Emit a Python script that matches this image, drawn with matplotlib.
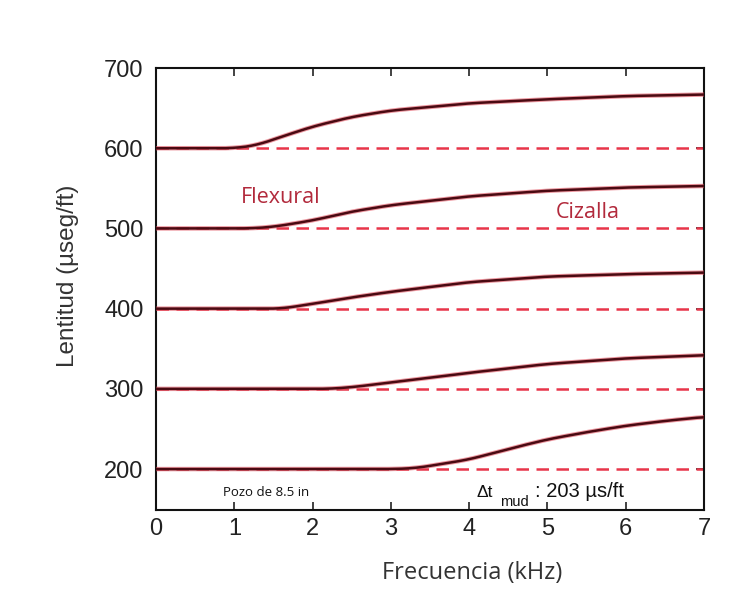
import numpy as np
import matplotlib
matplotlib.use("Agg")
import matplotlib.pyplot as plt

# Shear slowness levels (dashed) and flexural dispersion curves (solid)
shear_levels = [600, 500, 400, 300, 200]

freq_1 = [0, 1.0, 1.3, 1.5, 2.0, 2.5, 3.0, 4.0, 5.0, 6.0, 7.0]
flex_1 = [600, 600, 604, 611, 627, 639, 647, 656, 661, 665, 667]

freq_2 = [0, 1.2, 1.5, 2.0, 2.5, 3.0, 4.0, 5.0, 6.0, 7.0]
flex_2 = [500, 500, 502, 510, 521, 529, 540, 547, 551, 553]

freq_3 = [0, 1.6, 2.0, 2.5, 3.0, 4.0, 5.0, 6.0, 7.0]
flex_3 = [400, 400, 406, 414, 421, 433, 440, 443, 445]

freq_4 = [0, 2.2, 2.5, 3.0, 4.0, 5.0, 6.0, 7.0]
flex_4 = [300, 300, 302, 308, 320, 331, 338, 342]

freq_5 = [0, 3.0, 3.3, 3.5, 4.0, 4.5, 5.0, 5.5, 6.0, 6.5, 7.0]
flex_5 = [200, 200, 201, 204, 212, 225, 237, 246, 254, 260, 265]

flex_freqs = [freq_1, freq_2, freq_3, freq_4, freq_5]
flex_vals = [flex_1, flex_2, flex_3, flex_4, flex_5]

x_ticks = [0, 1, 2, 3, 4, 5, 6, 7]
y_ticks = [200, 300, 400, 500, 600, 700]

plt.rcParams['font.family'] = ['Liberation Sans', 'DejaVu Sans']
OPEN = ['Open Sans', 'DejaVu Sans']

fig = plt.figure(figsize=(7.48, 5.93), dpi=100)
ax = fig.add_axes([0.2086, 0.140, 0.7326, 0.7453])

dash_red = '#e8354a'
halo_red = '#e0505e'
dark = '#4a0a12'

for lvl in shear_levels:
    ax.plot([0, 7], [lvl, lvl], color=dash_red, lw=1.8, dashes=(5, 3), zorder=2)

for fx, fy in zip(flex_freqs, flex_vals):
    xs = np.linspace(0, 7, 300)
    ys = np.interp(xs, fx, fy)
    # light smoothing of the piecewise-linear readout
    k = np.ones(15) / 15
    ys_s = np.convolve(np.pad(ys, 7, mode='edge'), k, mode='valid')
    ax.plot(xs, ys_s, color=halo_red, lw=3.2, alpha=0.6, zorder=3)
    ax.plot(xs, ys_s, color=dark, lw=1.8, zorder=4)

ax.set_xlim(0, 7)
ax.set_ylim(149, 700)
ax.set_xticks(x_ticks)
ax.set_yticks(y_ticks)
ax.tick_params(axis='both', direction='in', length=6, width=1.2,
               labelsize=17, colors='#222222', top=True, right=True)
ax.tick_params(axis='y', pad=9)
ax.tick_params(axis='x', pad=6)
for sp in ax.spines.values():
    sp.set_linewidth(1.5)
    sp.set_color('#111111')

ax.set_xlabel('Frecuencia (kHz)', family=OPEN, fontsize=17, color='#333333',
              va='center')
ax.xaxis.set_label_coords(0.577, -0.1425)
ax.set_ylabel('Lentitud (µseg/ft)', fontsize=17.5, color='#333333', va='center')
ax.yaxis.set_label_coords(-0.160, 0.529)

txt_red = '#b22a3c'
ax.text(1.08, 539, 'Flexural', family=OPEN, fontsize=15.5, color=txt_red,
        va='center', ha='left')
ax.text(5.1, 520, 'Cizalla', family=OPEN, fontsize=15.5, color=txt_red,
        va='center', ha='left')
ax.text(0.85, 171, 'Pozo de 8.5 in', family=OPEN, fontsize=9.5,
        color='#111111', va='center', ha='left')

# mud slowness annotation built from pieces so the subscript sits low
ax.text(4.10, 165, '\u0394t', fontsize=12.5, color='#111111',
        va='baseline', ha='left')
ax.text(4.39, 154, 'mud', fontsize=10.5, color='#111111',
        va='baseline', ha='left')
ax.text(4.84, 165, ': 203 \u00b5s/ft', fontsize=14.5, color='#111111',
        va='baseline', ha='left')

fig.savefig('out.png', dpi=100)
